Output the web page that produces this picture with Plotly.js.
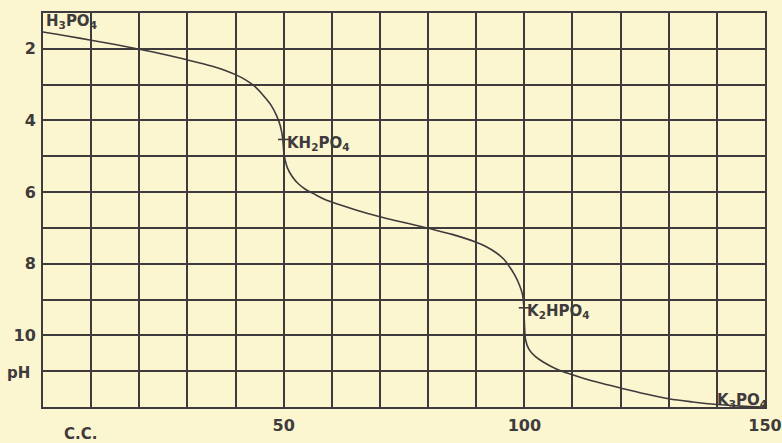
<!DOCTYPE html>
<html>
<head>
<meta charset="utf-8">
<script src="https://cdn.plot.ly/plotly-3.0.1.min.js"></script>
<style>
html,body{margin:0;padding:0;background:#fbf6d0;}
#chart{width:782px;height:443px;}
</style>
</head>
<body>
<div id="chart"></div>
<script>
// Titration curve: c.c. of alkali added vs pH
var cc = [0, 5, 10, 15, 20, 25, 30, 35, 38, 40, 42, 44, 46, 47.5, 48.5, 49.3, 49.8, 50, 50.3, 50.8, 51.8, 53, 54.5, 56.3, 58, 60, 65, 70, 75, 80, 85, 90, 92, 94, 95.7, 97, 98.1, 99, 99.6, 99.9, 100, 100.3, 101, 102.2, 104, 107, 110, 114, 117, 120, 125, 130, 135, 140, 145, 150];
var pH = [1.53, 1.64, 1.76, 1.88, 2.01, 2.15, 2.31, 2.48, 2.61, 2.72, 2.86, 3.05, 3.34, 3.6, 3.86, 4.15, 4.5, 4.85, 5.1, 5.33, 5.57, 5.76, 5.92, 6.05, 6.17, 6.28, 6.5, 6.69, 6.85, 7.01, 7.18, 7.4, 7.52, 7.68, 7.87, 8.1, 8.34, 8.6, 8.85, 9.2, 9.6, 10.15, 10.4, 10.58, 10.75, 10.96, 11.1, 11.27, 11.37, 11.47, 11.63, 11.77, 11.86, 11.93, 11.975, 12.0];

// Salt labels and the points they mark on the curve
var saltNames = ['H<sub>3</sub>PO<sub>4</sub>', 'KH<sub>2</sub>PO<sub>4</sub>', 'K<sub>2</sub>HPO<sub>4</sub>', 'K<sub>3</sub>PO<sub>4</sub>'];
var saltCC = [0, 50, 100, 150];
var saltPH = [1, 4.53, 9.23, 12];

// Axis ticks
var xTickVals = [0,10,20,30,40,50,60,70,80,90,100,110,120,130,140,150];
var xTickText = ['','','','','','50','','','','','100','','','','','150'];
var yTickVals = [1,2,3,4,5,6,7,8,9,10,11,12];
var yTickText = ['','2','','4','','6','','8','','10','',''];

var ink = '#3f3a3b';
var font = {family: 'DejaVu Sans', size: 15, color: ink, weight: 'bold'};
var tickFont = {family: 'DejaVu Sans', size: 16, color: ink, weight: 'bold'};

var traces = [
  {x: cc, y: pH, type: 'scatter', mode: 'lines',
   line: {color: ink, width: 1.6, shape: 'spline', smoothing: 1},
   hoverinfo: 'skip'},
  {x: [saltCC[1], saltCC[2]], y: [saltPH[1], saltPH[2]], type: 'scatter', mode: 'markers',
   marker: {symbol: 'line-ew', size: 8, line: {color: ink, width: 1.6}},
   hoverinfo: 'skip'}
];

var annotations = [
  {x: saltCC[0], y: saltPH[0], xref: 'x', yref: 'y', text: saltNames[0], showarrow: false,
   xanchor: 'left', yanchor: 'top', xshift: 1, yshift: 3, font: font},
  {x: saltCC[1], y: saltPH[1], xref: 'x', yref: 'y', text: saltNames[1], showarrow: false,
   xanchor: 'left', yanchor: 'middle', xshift: 1, yshift: -4, font: font},
  {x: saltCC[2], y: saltPH[2], xref: 'x', yref: 'y', text: saltNames[2], showarrow: false,
   xanchor: 'left', yanchor: 'middle', xshift: 1, yshift: -4, font: font},
  {x: saltCC[3], y: saltPH[3], xref: 'x', yref: 'y', text: saltNames[3], showarrow: false,
   xanchor: 'right', yanchor: 'bottom', xshift: 4, yshift: -5, font: font},
  {x: 0, y: 11.05, xref: 'paper', yref: 'y', text: 'pH', showarrow: false,
   xanchor: 'right', yanchor: 'middle', xshift: -11, font: font},
  {x: 4, y: 0, xref: 'x', yref: 'paper', text: 'C.C.', showarrow: false,
   xanchor: 'left', yanchor: 'middle', xshift: 0, yshift: -27, font: font}
];

var layout = {
  width: 782, height: 443,
  margin: {l: 43, r: 17, t: 13, b: 36, pad: 0},
  paper_bgcolor: '#fbf6d0',
  plot_bgcolor: '#fbf6d0',
  showlegend: false,
  font: font,
  xaxis: {
    range: [0, 150], tickmode: 'array', tickvals: xTickVals, ticktext: xTickText,
    showgrid: true, gridcolor: ink, gridwidth: 2,
    showline: true, linecolor: ink, linewidth: 2, mirror: true,
    zeroline: false, ticks: '', tickfont: tickFont, ticklabelstandoff: 3
  },
  yaxis: {
    range: [12, 1], tickmode: 'array', tickvals: yTickVals, ticktext: yTickText,
    showgrid: true, gridcolor: ink, gridwidth: 2,
    showline: true, linecolor: ink, linewidth: 2, mirror: true,
    zeroline: false, ticks: '', tickfont: tickFont, ticklabelstandoff: 2
  },
  annotations: annotations
};

Plotly.newPlot('chart', traces, layout, {staticPlot: true, displayModeBar: false});
</script>
</body>
</html>
